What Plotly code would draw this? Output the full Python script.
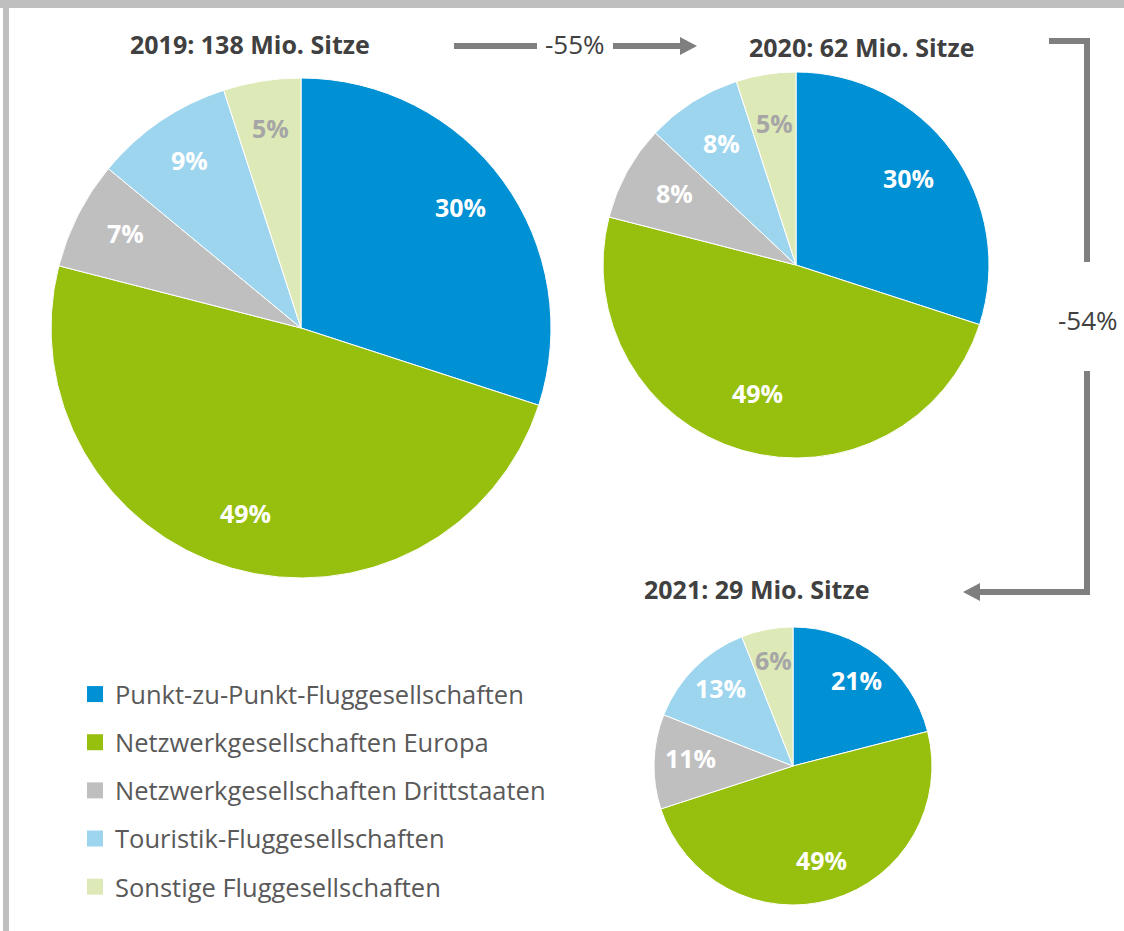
import math
import plotly.graph_objects as go

W, H = 1124, 931

categories = [
    "Punkt-zu-Punkt-Fluggesellschaften",
    "Netzwerkgesellschaften Europa",
    "Netzwerkgesellschaften Drittstaaten",
    "Touristik-Fluggesellschaften",
    "Sonstige Fluggesellschaften",
]
colors = ["#0090D4", "#97BF0D", "#BFBFBF", "#9DD5EE", "#DDE9B6"]
label_colors = ["white", "white", "white", "white", "#A6A6A6"]

years = ["2019", "2020", "2021"]
seats_mio = [138, 62, 29]
shares_2019 = [30, 49, 7, 9, 5]
shares_2020 = [30, 49, 8, 8, 5]
shares_2021 = [21, 49, 11, 13, 6]
changes = ["-55%", "-54%"]

# pie centre x, centre y, radius (px), label radius fraction
pies = [
    (shares_2019, 301, 328, 250, 0.79),
    (shares_2020, 796, 265, 193, 0.72),
    (shares_2021, 793, 766, 139, 0.74),
]


def px(x):
    return x / W


def py(y):
    return 1 - y / H


fig = go.Figure()
annotations = []

for vals, cx, cy, r, frac in pies:
    fig.add_trace(go.Pie(
        labels=categories,
        values=vals,
        sort=False,
        direction="clockwise",
        rotation=0,
        marker=dict(colors=colors, line=dict(color="white", width=1)),
        textinfo="none",
        domain=dict(x=[px(cx - r), px(cx + r)], y=[py(cy + r), py(cy - r)]),
        showlegend=False,
        hoverinfo="label+percent",
    ))
    # data labels placed along each slice's bisector
    total = sum(vals)
    cum = 0
    for v, lc in zip(vals, label_colors):
        mid = (cum + v / 2) / total * 2 * math.pi
        cum += v
        lx = cx + frac * r * math.sin(mid)
        ly = cy - frac * r * math.cos(mid)
        annotations.append(dict(
            text=f"<b>{v}%</b>", x=px(lx), y=py(ly), xref="paper", yref="paper",
            showarrow=False, xanchor="center", yanchor="middle", yshift=5,
            font=dict(family="Open Sans", size=25, color=lc)))

# legend entries
for cat, col in zip(categories, colors):
    fig.add_trace(go.Scatter(
        x=[None], y=[None], mode="markers", name=cat,
        marker=dict(symbol="square", size=16, color=col),
        legendgroup=cat, showlegend=True,
    ))

shapes = []
line_col = "#7F7F7F"
lw = 6


def seg(x0, y0, x1, y1):
    shapes.append(dict(type="line", xref="paper", yref="paper",
                       x0=px(x0), y0=py(y0), x1=px(x1), y1=py(y1),
                       line=dict(color=line_col, width=lw)))


def tri(points):
    d = "M " + " L ".join(f"{px(x)},{py(y)}" for x, y in points) + " Z"
    shapes.append(dict(type="path", xref="paper", yref="paper", path=d,
                       fillcolor=line_col, line=dict(color=line_col, width=0)))


# border
shapes.append(dict(type="rect", xref="paper", yref="paper", x0=0, x1=1,
                   y0=py(8), y1=1, fillcolor="#BFBFBF", line=dict(width=0), layer="below"))
shapes.append(dict(type="rect", xref="paper", yref="paper", x0=px(3), x1=px(9),
                   y0=0, y1=1, fillcolor="#BFBFBF", line=dict(width=0), layer="below"))

# -55% arrow
seg(454, 46, 537, 46)
seg(613, 46, 681, 46)
tri([(680, 37), (697, 46), (680, 55)])
# -54% bracket
seg(1049, 41, 1090, 41)
seg(1087, 38, 1087, 262)
seg(1087, 371, 1087, 595)
seg(1090, 592, 979, 592)
tri([(980, 583), (963, 592), (980, 601)])

title_pos = [(250, 44), (861, 47), (756, 589)]
for yr, s, (tx, ty) in zip(years, seats_mio, title_pos):
    annotations.append(dict(
        text=f"<b>{yr}: {s} Mio. Sitze</b>", x=px(tx), y=py(ty), xref="paper", yref="paper",
        showarrow=False, xanchor="center", yanchor="middle",
        font=dict(family="Open Sans", size=25, color="#404040")))
chg_pos = [(575, 44), (1088, 320)]
for c, (tx, ty) in zip(changes, chg_pos):
    annotations.append(dict(
        text=c, x=px(tx), y=py(ty), xref="paper", yref="paper",
        showarrow=False, xanchor="center", yanchor="middle",
        font=dict(family="Open Sans", size=26, color="#404040")))

fig.update_layout(
    width=W, height=H,
    margin=dict(l=0, r=0, t=0, b=0),
    paper_bgcolor="white", plot_bgcolor="white",
    xaxis=dict(visible=False), yaxis=dict(visible=False),
    shapes=shapes, annotations=annotations,
    legend=dict(x=px(75), y=py(671), xanchor="left", yanchor="top",
                font=dict(family="Open Sans", size=25.5, color="#595959"),
                tracegroupgap=12, bgcolor="rgba(0,0,0,0)", itemsizing="trace"),
)

fig.write_html("out.html", config={"displayModeBar": False},
               post_script="document.body.style.margin='0';")
